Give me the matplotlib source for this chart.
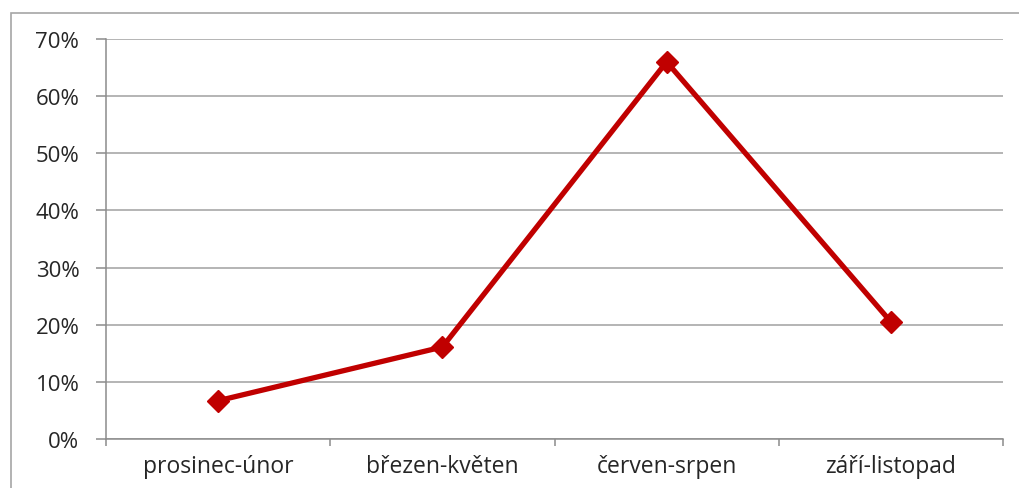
import matplotlib
matplotlib.use("Agg")
import matplotlib.pyplot as plt
from matplotlib.patches import Rectangle
from matplotlib.ticker import FuncFormatter, FixedLocator

categories = ["prosinec-únor", "březen-květen", "červen-srpen", "září-listopad"]
values = [0.067, 0.161, 0.660, 0.205]
yticks = [0, 0.1, 0.2, 0.3, 0.4, 0.5, 0.6, 0.7]

plt.rcParams['font.family'] = ['Open Sans', 'DejaVu Sans']

W, H = 1020, 489
fig = plt.figure(figsize=(W / 100, H / 100), dpi=100)
ax = fig.add_axes([106 / W, 1 - 440 / H, (1003 - 106) / W, 400 / H])

# outer frame (extends beyond the image at right/bottom)
fig.patches.append(Rectangle((11 / W, -0.1), 1.2, 1 - 14 / H + 0.1,
                             transform=fig.transFigure, fill=False,
                             edgecolor='#A6A6A6', linewidth=1.2))

x = list(range(len(categories)))
ax.plot(x, values, color='#C00000', linewidth=3.8, marker='D',
        markersize=11, markeredgecolor='#C00000', markerfacecolor='#C00000',
        zorder=3, solid_joinstyle='miter')

ax.set_xlim(-0.5, len(categories) - 0.5)
ax.set_ylim(0, 0.7)
ax.set_yticks(yticks)
ax.yaxis.set_major_formatter(FuncFormatter(lambda v, p: f"{round(v * 100)}%"))
ax.set_xticks(x)
ax.set_xticklabels(categories)
ax.xaxis.set_minor_locator(FixedLocator([i - 0.5 for i in range(len(categories) + 1)]))

ax.grid(axis='y', color='#A0A0A0', linewidth=1.1)
ax.set_axisbelow(True)
for s in ['top', 'right']:
    ax.spines[s].set_visible(False)
for s in ['left', 'bottom']:
    ax.spines[s].set_color('#8C8C8C')
    ax.spines[s].set_linewidth(1.1)

ax.tick_params(axis='y', length=7.2, color='#8C8C8C', width=1.1, labelsize=16,
               labelcolor='#262626', pad=12)
ax.tick_params(axis='x', which='major', length=0, labelsize=16.5,
               labelcolor='#262626', pad=11)
ax.tick_params(axis='x', which='minor', length=5, color='#8C8C8C', width=1.1)

fig.savefig("out.png", dpi=100)
